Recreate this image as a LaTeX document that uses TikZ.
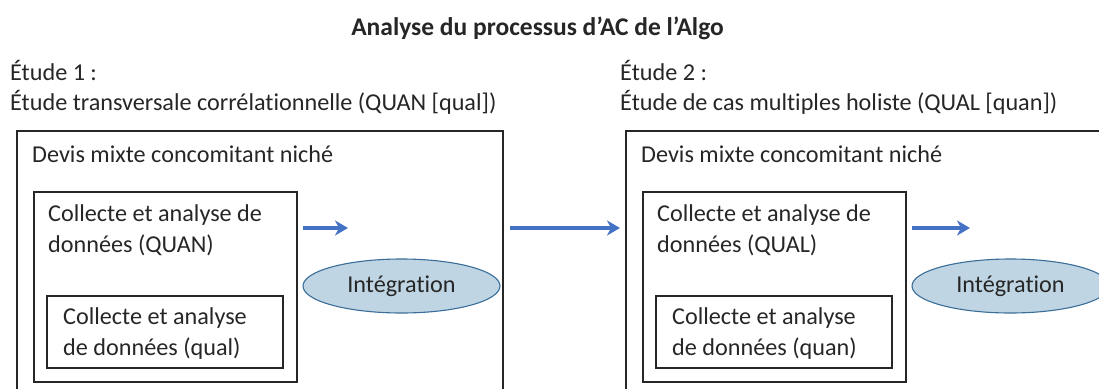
\documentclass[tikz,border=0pt]{standalone}
\usepackage{fontspec}
\setmainfont{Carlito}[RawFeature={-liga;-clig;-calt}]
\usetikzlibrary{arrows.meta,positioning,shapes.geometric}
\definecolor{flowblue}{RGB}{68,114,196}
\definecolor{integfill}{RGB}{192,213,227}
\definecolor{integline}{RGB}{58,110,152}
\definecolor{inkgray}{RGB}{38,38,38}

\begin{document}
\begin{tikzpicture}[x=1pt, y=-1pt, font=\fontsize{24.2}{31}\selectfont, text=inkgray,
    studybox/.style={draw=inkgray, line width=1.6pt, minimum width=486pt, minimum height=300pt, anchor=north west, inner sep=0pt, outer sep=0pt},
    databox/.style={draw=inkgray, line width=1.6pt, minimum width=263pt, minimum height=190pt, anchor=north west, inner sep=0pt, outer sep=0pt},
    nestbox/.style={draw=inkgray, line width=1.6pt, minimum width=236pt, minimum height=72pt, anchor=north west, inner sep=0pt, outer sep=0pt},
    integ/.style={ellipse, draw=integline, line width=1.1pt, fill=integfill, minimum width=197pt, minimum height=54pt, inner sep=0pt},
    flow/.style={draw=flowblue, line width=3.2pt, -{Stealth[length=13pt,width=15pt,inset=4pt]}},
    txt/.style={anchor=base west, inner sep=0pt, align=left}]
    \useasboundingbox (0,0) rectangle (1099,388);
    \clip (0,0) rectangle (1099,388);

    % title
    \node[anchor=base, font=\bfseries\fontsize{25.5}{31}\selectfont] (title) at (537.5,35) {Analyse du processus d’AC de l’Algo};

    % study 1
    \node[txt] (etude1) at (10,80) {Étude 1 :};
    \node[txt] (type1) at (10,110) {Étude transversale corrélationnelle (QUAN [qual])};
    \node[studybox] (study1) at (17,131) {};
    \node[txt] (devis1) at (32,162) {Devis mixte concomitant niché};
    \node[databox] (quan1) at (34,192) {};
    \node[txt] (quantxt1) at (48,252) {Collecte et analyse de\\données (QUAN)};
    \node[nestbox] (qual1) at (47,296) {};
    \node[txt] (qualtxt1) at (63,355) {Collecte et analyse\\de données (qual)};
    \node[integ] (integ1) at (401.5,286) {Intégration};

    % study 2
    \node[txt] (etude2) at (620,80) {Étude 2 :};
    \node[txt] (type2) at (620,110) {Étude de cas multiples holiste (QUAL [quan])};
    \node[studybox] (study2) at (626,131) {};
    \node[txt] (devis2) at (641,162) {Devis mixte concomitant niché};
    \node[databox] (qual2) at (643,192) {};
    \node[txt] (qualtxt2) at (657,252) {Collecte et analyse de\\données (QUAL)};
    \node[nestbox] (quan2) at (656,296) {};
    \node[txt] (quantxt2) at (672,355) {Collecte et analyse\\de données (quan)};
    \node[integ] (integ2) at (1010.5,286) {Intégration};

    % arrows
    \coordinate (f1s) at (303,228);
    \coordinate (f1e) at (348,228);
    \coordinate (f2s) at (510,228);
    \coordinate (f2e) at (620,228);
    \coordinate (f3s) at (912,228);
    \coordinate (f3e) at (970,228);
    \draw[flow] (f1s) -- (f1e);
    \draw[flow] (f2s) -- (f2e);
    \draw[flow] (f3s) -- (f3e);
\end{tikzpicture}
\end{document}
